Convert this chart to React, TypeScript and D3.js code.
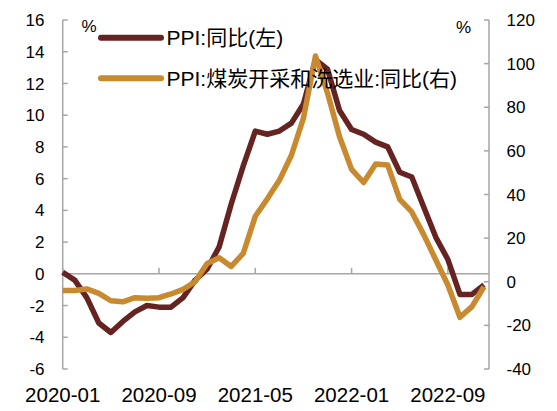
import React from 'react';
import * as d3 from 'd3';

const months: string[] = [
  '2020-01','2020-02','2020-03','2020-04','2020-05','2020-06','2020-07','2020-08','2020-09','2020-10','2020-11','2020-12',
  '2021-01','2021-02','2021-03','2021-04','2021-05','2021-06','2021-07','2021-08','2021-09','2021-10','2021-11','2021-12',
  '2022-01','2022-02','2022-03','2022-04','2022-05','2022-06','2022-07','2022-08','2022-09','2022-10','2022-11','2022-12',
];

const ppi: number[] = [
  0.1, -0.4, -1.5, -3.1, -3.7, -3.0, -2.4, -2.0, -2.1, -2.1, -1.5, -0.4,
  0.3, 1.7, 4.4, 6.8, 9.0, 8.8, 9.0, 9.5, 10.7, 13.5, 12.9, 10.3,
  9.1, 8.8, 8.3, 8.0, 6.4, 6.1, 4.2, 2.3, 0.9, -1.3, -1.3, -0.7,
];

const coal: number[] = [
  -4.0, -4.0, -3.3, -5.3, -8.7, -9.2, -7.3, -7.6, -7.3, -5.6, -3.5, 0.0,
  8.4, 11.0, 7.0, 13.0, 30.0, 38.0, 46.5, 58.0, 75.0, 103.5, 86.5, 66.5,
  51.5, 45.5, 54.0, 53.5, 37.8, 32.0, 21.5, 10.0, -1.5, -16.3, -11.4, -2.3,
];

const leftTicks: number[] = [16, 14, 12, 10, 8, 6, 4, 2, 0, -2, -4, -6];
const rightTicks: number[] = [120, 100, 80, 60, 40, 20, 0, -20, -40];
const xTickIdx: number[] = [0, 8, 16, 24, 32];
const legendLabels: string[] = ['PPI:同比(左)', 'PPI:煤炭开采和洗选业:同比(右)'];

const BROWN = '#652322';
const ORANGE = '#C8892F';
const AXIS = '#A6A6A6';
const FONT = "'Liberation Sans', Arial, 'Noto Sans CJK SC', sans-serif";

export default function App() {
  const W = 557, H = 411;
  const left = 62.7, right = 489, top = 20, bottom = 369;
  const x = d3.scaleLinear().domain([0, months.length - 1]).range([left, 484]);
  const yL = d3.scaleLinear().domain([-6, 16]).range([bottom, top]);
  const yR = d3.scaleLinear().domain([-40, 120]).range([bottom, top]);

  const lineL = d3.line<number>().x((_, i) => x(i)).y((d) => yL(d));
  const lineR = d3.line<number>().x((_, i) => x(i)).y((d) => yR(d));

  const colors = [BROWN, ORANGE];
  const legendY = [37.7, 78.3];

  return (
    <svg width={W} height={H} style={{ position: 'absolute', left: 0, top: 0, background: '#fff' }} fontFamily={FONT}>
      {/* left axis */}
      <line x1={left} x2={left} y1={top} y2={bottom} stroke={AXIS} strokeWidth={1.5} />
      {leftTicks.map((t) => (
        <g key={'l' + t}>
          <line x1={left} x2={left + 5} y1={yL(t)} y2={yL(t)} stroke={AXIS} strokeWidth={1.5} />
          <text x={44.5} y={yL(t)} dy="0.36em" textAnchor="end" fontSize={17} fill="#000">{t}</text>
        </g>
      ))}
      {/* right axis */}
      <line x1={right} x2={right} y1={top} y2={bottom} stroke={AXIS} strokeWidth={1.5} />
      {rightTicks.map((t) => (
        <g key={'r' + t}>
          <line x1={right - 5} x2={right} y1={yR(t)} y2={yR(t)} stroke={AXIS} strokeWidth={1.5} />
          <text x={506.5} y={yR(t)} dy="0.36em" textAnchor="start" fontSize={17} fill="#000">{t}</text>
        </g>
      ))}
      {/* zero line / category axis */}
      <line x1={left} x2={right} y1={yL(0)} y2={yL(0)} stroke={AXIS} strokeWidth={1.5} />
      {xTickIdx.map((i) => (
        <g key={'x' + i}>
          <line x1={x(i)} x2={x(i)} y1={yL(0)} y2={yL(0) - 6} stroke={AXIS} strokeWidth={1.5} />
          <text x={x(i)} y={401.7} textAnchor="middle" fontSize={20.5} fill="#000">{months[i]}</text>
        </g>
      ))}
      {/* units */}
      <text x={81.5} y={32} fontSize={17} fill="#000">%</text>
      <text x={456} y={33} fontSize={17} fill="#000">%</text>
      {/* series */}
      <path d={lineL(ppi) || ''} fill="none" stroke={BROWN} strokeWidth={5.5} strokeLinejoin="round" />
      <path d={lineR(coal) || ''} fill="none" stroke={ORANGE} strokeWidth={5.5} strokeLinejoin="round" />
      {/* legend */}
      {legendLabels.map((lab, k) => (
        <g key={'lg' + k}>
          <line x1={101} x2={161} y1={legendY[k]} y2={legendY[k]} stroke={colors[k]} strokeWidth={6} strokeLinecap="round" />
          <text x={166.5} y={legendY[k]} dy="0.36em" fontSize={21} fill="#000">{lab}</text>
        </g>
      ))}
    </svg>
  );
}
